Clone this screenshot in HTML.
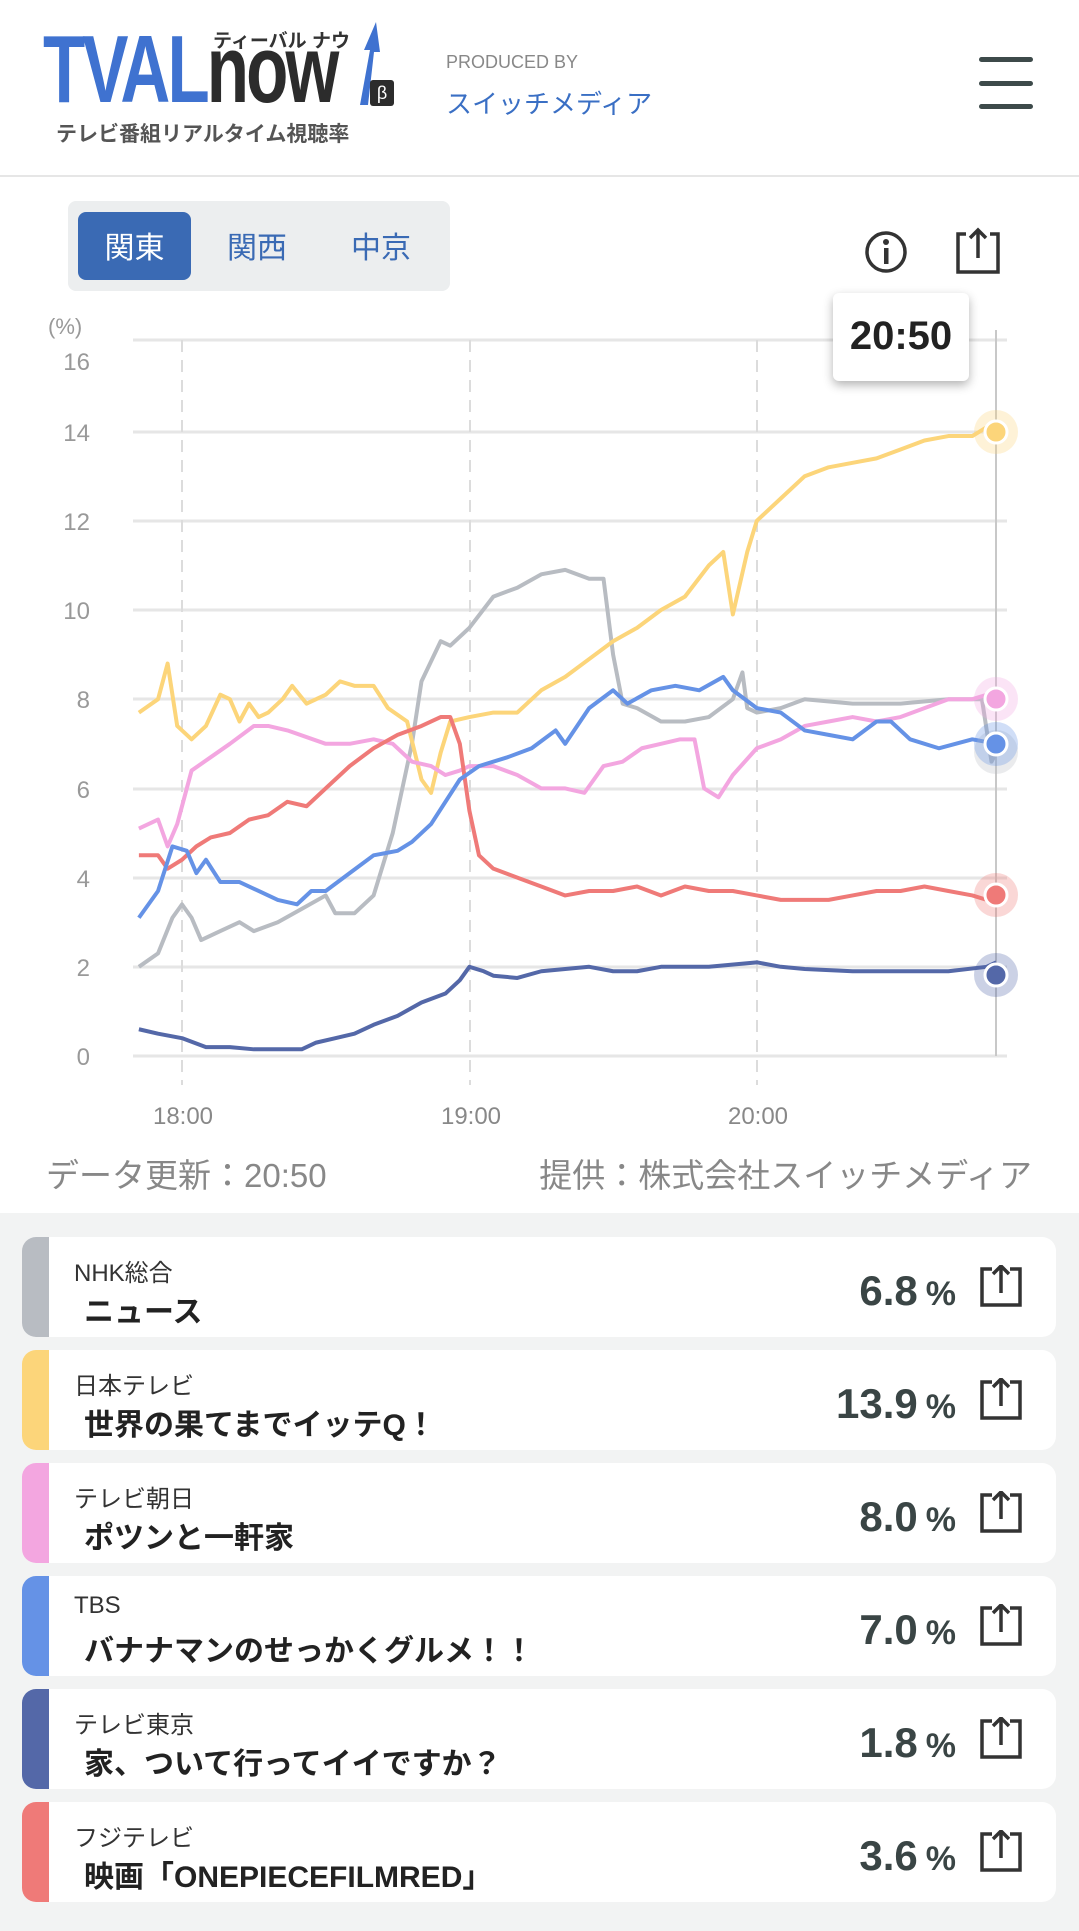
<!DOCTYPE html>
<html><head><meta charset="utf-8">
<style>
*{margin:0;padding:0;box-sizing:border-box}
body{width:1079px;height:1931px;background:#fff;font-family:"Liberation Sans","Noto Sans CJK JP",sans-serif;position:relative;overflow:hidden}
.a{position:absolute;white-space:nowrap}
.card{position:absolute;left:22px;width:1034px;height:100px;background:#fff;border-radius:14px;overflow:hidden}
.bar{position:absolute;left:0;top:0;bottom:0;width:27px}
.ch{position:absolute;left:52px;top:16px;font-size:24px;color:#333}
.pg{position:absolute;left:62px;top:50px;font-size:30px;font-weight:bold;color:#222}
.pc{position:absolute;right:100px;top:30px;font-size:42px;font-weight:bold;color:#3a4545}
.pc span{font-size:34px;margin-left:8px}
.sh{position:absolute;right:32px;top:28px}
</style></head><body>
<!-- header -->
<div class="a" style="left:43px;top:22px;font-size:96px;font-weight:bold;color:#3f72d0;transform:scaleX(0.72);transform-origin:left top;letter-spacing:-4px;line-height:96px">TVAL<span style="color:#2c2c2c">now</span></div>
<div class="a" style="left:213px;top:26px;font-size:19px;font-weight:bold;color:#333">ティーバル ナウ</div>
<svg class="a" style="left:340px;top:20px" width="45" height="90"><polygon points="20,85 30,30 24,30 36,2 40,32 34,32 28,85" fill="#3f72d0"/></svg>
<div class="a" style="left:370px;top:80px;width:24px;height:26px;background:#2c2c2c;color:#fff;font-size:18px;text-align:center;line-height:26px;border-radius:3px">β</div>
<div class="a" style="left:56px;top:118px;font-size:21px;font-weight:bold;color:#555">テレビ番組リアルタイム視聴率</div>
<div class="a" style="left:446px;top:52px;font-size:18px;color:#888">PRODUCED BY</div>
<div class="a" style="left:446px;top:84px;font-size:26px;color:#3a6fc4">スイッチメディア</div>
<div class="a" style="left:979px;top:57px;width:54px;height:5px;background:#3d4a4a;border-radius:3px"></div>
<div class="a" style="left:979px;top:81px;width:54px;height:5px;background:#3d4a4a;border-radius:3px"></div>
<div class="a" style="left:979px;top:104px;width:54px;height:5px;background:#3d4a4a;border-radius:3px"></div>
<div class="a" style="left:0;top:175px;width:1079px;height:2px;background:#e6e6e6"></div>
<!-- tabs -->
<div class="a" style="left:68px;top:201px;width:382px;height:90px;background:#eceeef;border-radius:8px"></div>
<div class="a" style="left:78px;top:212px;width:113px;height:68px;background:#3a6ab4;border-radius:8px;color:#fff;font-size:30px;text-align:center;line-height:74px">関東</div>
<div class="a" style="left:207px;top:212px;width:100px;color:#3a6ab4;font-size:30px;text-align:center;line-height:74px">関西</div>
<div class="a" style="left:331px;top:212px;width:100px;color:#3a6ab4;font-size:30px;text-align:center;line-height:74px">中京</div>
<svg class="a" style="left:860px;top:226px" width="150" height="52">
<circle cx="26" cy="26" r="19" fill="none" stroke="#333" stroke-width="3.5"/><circle cx="26" cy="16" r="3" fill="#333"/><rect x="24" y="22" width="4.5" height="16" fill="#333"/>
<path d="M106 8 L98 8 L98 46 L138 46 L138 8 L130 8" fill="none" stroke="#333" stroke-width="3.5"/><path d="M118 32 L118 4 M110 12 L118 4 L126 12" fill="none" stroke="#333" stroke-width="3.5"/>
</svg>
<!-- chart -->
<svg class="a" style="left:0;top:0" width="1079" height="1200">
<g stroke="#e6e6e6" stroke-width="3">
<line x1="133" y1="340" x2="1007" y2="340"/><line x1="133" y1="432" x2="1007" y2="432"/><line x1="133" y1="521" x2="1007" y2="521"/><line x1="133" y1="610" x2="1007" y2="610"/><line x1="133" y1="699" x2="1007" y2="699"/><line x1="133" y1="789" x2="1007" y2="789"/><line x1="133" y1="878" x2="1007" y2="878"/><line x1="133" y1="967" x2="1007" y2="967"/><line x1="133" y1="1056" x2="1007" y2="1056"/>
</g>
<g stroke="#dcdcdc" stroke-width="2" stroke-dasharray="12,8"><line x1="182" y1="340" x2="182" y2="1085"/><line x1="470" y1="340" x2="470" y2="1085"/><line x1="757" y1="340" x2="757" y2="1085"/></g>
<line x1="996" y1="330" x2="996" y2="1056" stroke="#c8c8c8" stroke-width="2"/>
<g fill="#999" font-size="24" text-anchor="end"><text x="90" y="370">16</text><text x="90" y="441">14</text><text x="90" y="530">12</text><text x="90" y="619">10</text><text x="90" y="708">8</text><text x="90" y="798">6</text><text x="90" y="887">4</text><text x="90" y="976">2</text><text x="90" y="1065">0</text></g>
<text x="48" y="334" fill="#999" font-size="22">(%)</text>
<g fill="#888" font-size="24" text-anchor="middle"><text x="183" y="1124">18:00</text><text x="471" y="1124">19:00</text><text x="758" y="1124">20:00</text></g>
<g transform="translate(182,1056) scale(4.79,-44.6)" fill="none" stroke-width="4" stroke-linejoin="round" vector-effect="non-scaling-stroke">
<polyline vector-effect="non-scaling-stroke" stroke="#b8bcc2" stroke-width="4" fill="none" points="-9,2 -5,2.3 -2,3.1 0,3.4 2,3.1 4,2.6 8,2.8 12,3 15,2.8 20,3 25,3.3 30,3.6 32,3.2 36,3.2 40,3.6 44,5 48,7 50,8.4 54,9.3 56,9.2 60,9.6 65,10.3 70,10.5 75,10.8 80,10.9 85,10.7 88,10.7 90,9 92,7.9 95,7.8 100,7.5 105,7.5 110,7.6 115,8 117,8.6 118,7.8 120,7.7 125,7.8 130,8 140,7.9 150,7.9 160,8 167,8 169,6.6 170,6.8"/>
<polyline vector-effect="non-scaling-stroke" stroke="#fcd57a" stroke-width="4" fill="none" points="-9,7.7 -5,8 -3,8.8 -1,7.4 2,7.1 5,7.4 8,8.1 10,8 12,7.5 14,7.9 16,7.6 18,7.7 21,8 23,8.3 26,7.9 30,8.1 33,8.4 36,8.3 40,8.3 43,7.8 47,7.5 50,6.2 52,5.9 54,6.8 56,7.5 60,7.6 65,7.7 70,7.7 75,8.2 80,8.5 85,8.9 90,9.3 95,9.6 100,10 105,10.3 110,11 113,11.3 115,9.9 118,11.3 120,12 125,12.5 130,13 135,13.2 140,13.3 145,13.4 150,13.6 155,13.8 160,13.9 165,13.9 168,14.1 170,14"/>
<polyline vector-effect="non-scaling-stroke" stroke="#f3a6e0" stroke-width="4" fill="none" points="-9,5.1 -5,5.3 -3,4.7 -1,5.2 2,6.4 6,6.7 10,7 15,7.4 18,7.4 22,7.3 30,7 35,7 40,7.1 44,7 48,6.6 52,6.5 55,6.3 58,6.4 60,6.5 65,6.5 70,6.3 75,6 80,6 84,5.9 88,6.5 92,6.6 96,6.9 100,7 104,7.1 107,7.1 109,6 112,5.8 115,6.3 120,6.9 125,7.1 130,7.4 135,7.5 140,7.6 145,7.5 150,7.6 155,7.8 160,8 165,8 168,8.1 170,8"/>
<polyline vector-effect="non-scaling-stroke" stroke="#ef7a78" stroke-width="4" fill="none" points="-9,4.5 -5,4.5 -3,4.2 0,4.4 3,4.7 6,4.9 10,5 14,5.3 18,5.4 22,5.7 26,5.6 30,6 35,6.5 40,6.9 45,7.2 50,7.4 54,7.6 56,7.6 58,7 60,5.5 62,4.5 65,4.2 70,4 75,3.8 80,3.6 85,3.7 90,3.7 95,3.8 100,3.6 105,3.8 110,3.7 115,3.7 120,3.6 125,3.5 130,3.5 135,3.5 140,3.6 145,3.7 150,3.7 155,3.8 160,3.7 165,3.6 168,3.5 170,3.6"/>
<polyline vector-effect="non-scaling-stroke" stroke="#6592e6" stroke-width="4" fill="none" points="-9,3.1 -5,3.7 -2,4.7 1,4.6 3,4.1 5,4.4 8,3.9 12,3.9 16,3.7 20,3.5 24,3.4 27,3.7 30,3.7 35,4.1 40,4.5 45,4.6 48,4.8 52,5.2 58,6.2 62,6.5 68,6.7 73,6.9 78,7.3 80,7 85,7.8 90,8.2 93,7.9 98,8.2 103,8.3 108,8.2 113,8.5 115,8.2 120,7.8 125,7.7 130,7.3 135,7.2 140,7.1 145,7.5 148,7.5 152,7.1 158,6.9 165,7.1 170,7"/>
<polyline vector-effect="non-scaling-stroke" stroke="#5468a8" stroke-width="4" fill="none" points="-9,0.6 -5,0.5 0,0.4 5,0.2 10,0.2 15,0.15 20,0.15 25,0.15 28,0.3 32,0.4 36,0.5 40,0.7 45,0.9 50,1.2 55,1.4 58,1.7 60,2 63,1.9 65,1.8 70,1.75 75,1.9 80,1.95 85,2 90,1.9 95,1.9 100,2 105,2 110,2 120,2.1 125,2 130,1.95 140,1.9 150,1.9 160,1.9 168,2 170,2.1"/>
</g>
<g stroke="#fff" stroke-width="3">
<circle cx="996" cy="432" r="22" fill="#fcd57a" fill-opacity="0.3" stroke="none"/><circle cx="996" cy="432" r="11" fill="#fcd57a"/>
<circle cx="996" cy="699" r="22" fill="#f3a6e0" fill-opacity="0.3" stroke="none"/><circle cx="996" cy="699" r="11" fill="#f3a6e0"/>
<circle cx="996" cy="752" r="22" fill="#b8bcc2" fill-opacity="0.3" stroke="none"/>
<circle cx="996" cy="744" r="22" fill="#6592e6" fill-opacity="0.3" stroke="none"/><circle cx="996" cy="744" r="11" fill="#6592e6"/>
<circle cx="996" cy="895" r="22" fill="#ef7a78" fill-opacity="0.3" stroke="none"/><circle cx="996" cy="895" r="11" fill="#ef7a78"/>
<circle cx="996" cy="975" r="22" fill="#5468a8" fill-opacity="0.3" stroke="none"/><circle cx="996" cy="975" r="11" fill="#5468a8"/>
</g>
</svg>
<div class="a" style="left:833px;top:293px;width:136px;height:88px;background:#fff;border-radius:6px;box-shadow:0 4px 10px rgba(0,0,0,0.3);font-size:40px;font-weight:bold;color:#222;text-align:center;line-height:86px">20:50</div>
<div class="a" style="left:46px;top:1149px;font-size:33px;color:#888">データ更新：20:50</div>
<div class="a" style="right:47px;top:1149px;font-size:33px;color:#888">提供：株式会社スイッチメディア</div>
<!-- list -->
<div class="a" style="left:0;top:1213px;width:1079px;height:718px;background:#f2f3f3"></div>
<svg width="0" height="0" style="position:absolute"><defs><g id="s"><path d="M14 4 L4 4 L4 40 L42 40 L42 4 L32 4" fill="none" stroke="#333" stroke-width="3.5"/><path d="M23 28 L23 1 M15 9 L23 1 L31 9" fill="none" stroke="#333" stroke-width="3.5"/></g></defs></svg>
<div class="card" style="top:1237px"><div class="bar" style="background:#b8bcc2"></div><div class="ch">NHK総合</div><div class="pg">ニュース</div><div class="pc">6.8<span>%</span></div><svg class="sh" width="46" height="44"><use href="#s"/></svg></div>
<div class="card" style="top:1350px"><div class="bar" style="background:#fcd57a"></div><div class="ch">日本テレビ</div><div class="pg">世界の果てまでイッテQ！</div><div class="pc">13.9<span>%</span></div><svg class="sh" width="46" height="44"><use href="#s"/></svg></div>
<div class="card" style="top:1463px"><div class="bar" style="background:#f3a6e0"></div><div class="ch">テレビ朝日</div><div class="pg">ポツンと一軒家</div><div class="pc">8.0<span>%</span></div><svg class="sh" width="46" height="44"><use href="#s"/></svg></div>
<div class="card" style="top:1576px"><div class="bar" style="background:#6592e6"></div><div class="ch">TBS</div><div class="pg">バナナマンのせっかくグルメ！！</div><div class="pc">7.0<span>%</span></div><svg class="sh" width="46" height="44"><use href="#s"/></svg></div>
<div class="card" style="top:1689px"><div class="bar" style="background:#5468a8"></div><div class="ch">テレビ東京</div><div class="pg">家、ついて行ってイイですか？</div><div class="pc">1.8<span>%</span></div><svg class="sh" width="46" height="44"><use href="#s"/></svg></div>
<div class="card" style="top:1802px"><div class="bar" style="background:#ef7a78"></div><div class="ch">フジテレビ</div><div class="pg">映画「ONEPIECEFILMRED」</div><div class="pc">3.6<span>%</span></div><svg class="sh" width="46" height="44"><use href="#s"/></svg></div>
</body></html>
